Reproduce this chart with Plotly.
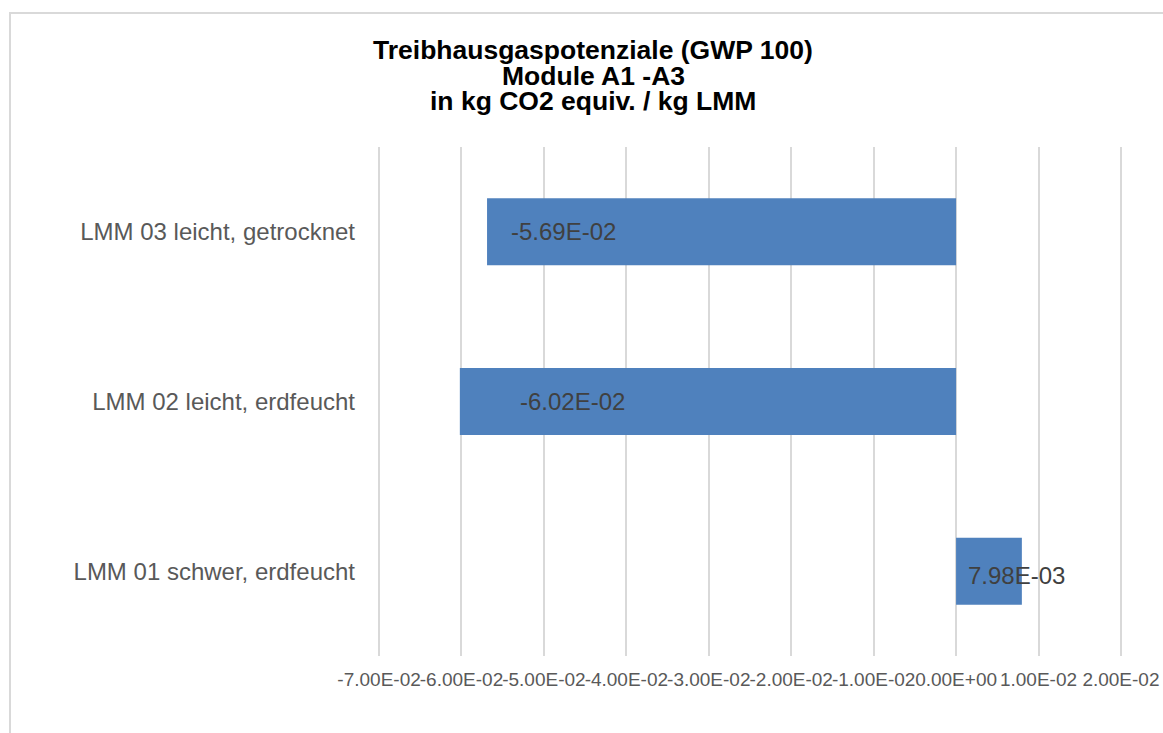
import plotly.graph_objects as go

# ---- data ----
categories = ["LMM 01 schwer, erdfeucht", "LMM 02 leicht, erdfeucht", "LMM 03 leicht, getrocknet"]
values = [0.00798, -0.0602, -0.0569]
tick_vals = [-0.07, -0.06, -0.05, -0.04, -0.03, -0.02, -0.01, 0.0, 0.01, 0.02]
tick_text = ["-7.00E-02", "-6.00E-02", "-5.00E-02", "-4.00E-02", "-3.00E-02",
             "-2.00E-02", "-1.00E-02", "0.00E+00", "1.00E-02", "2.00E-02"]
title_lines = ["Treibhausgaspotenziale (GWP 100)", "Module A1 -A3", "in kg CO2 equiv. / kg LMM"]

# ---- layout constants ----
W, H = 1163, 733
ML, MR, MT, MB = 377, 40, 147, 77
PW, PH = W - ML - MR, H - MT - MB
FONT = "Liberation Sans, Arial, sans-serif"
label_xshift = [10, 58, 22]
label_yshift = [-4, 0, 0]


def px_x(px):
    return (px - ML) / PW


def px_y(py):
    return (H - MB - py) / PH


fig = go.Figure()
fig.add_trace(go.Bar(
    y=categories, x=values, orientation="h",
    marker=dict(color="#4F81BD", line=dict(width=0)),
    width=0.395, hoverinfo="skip",
))

annotations = []
for cat, v, xs, ys in zip(categories, values, label_xshift, label_yshift):
    annotations.append(dict(
        x=min(v, 0), y=cat, xref="x", yref="y", text=f"{v:.2E}",
        showarrow=False, xanchor="left", yanchor="middle",
        xshift=xs, yshift=ys,
        font=dict(family=FONT, size=24, color="#404040"),
    ))

for i, line in enumerate(title_lines):
    annotations.append(dict(
        x=px_x(593), y=px_y(50 + 25.5 * i), xref="paper", yref="paper",
        text=f"<b>{line}</b>", showarrow=False, xanchor="center", yanchor="middle",
        font=dict(family=FONT, size=26.5, color="#000000"),
    ))

eps = 0.00025
fig.update_layout(
    width=W, height=H,
    margin=dict(l=ML, r=MR, t=MT, b=MB, pad=0, autoexpand=False),
    paper_bgcolor="white", plot_bgcolor="white",
    showlegend=False,
    annotations=annotations,
    xaxis=dict(
        range=[-0.07 - eps, 0.02 + eps], tickvals=tick_vals, ticktext=tick_text, tickangle=0,
        showgrid=True, gridcolor="#D9D9D9", gridwidth=1.5,
        zeroline=True, zerolinecolor="#D9D9D9", zerolinewidth=1.5,
        showline=False, ticks="", ticklabelstandoff=10, automargin=False,
        tickfont=dict(family=FONT, size=19, color="#595959"),
        fixedrange=True,
    ),
    yaxis=dict(
        type="category", range=[-0.5, 2.5], categoryorder="array", categoryarray=categories,
        showgrid=False, zeroline=False, showline=False, ticks="", automargin=False,
        ticklabelstandoff=21,
        tickfont=dict(family=FONT, size=24, color="#595959"),
        fixedrange=True,
    ),
    shapes=[dict(
        type="rect", xref="paper", yref="paper",
        x0=px_x(10), x1=px_x(W + 20), y0=px_y(H + 20), y1=px_y(13),
        line=dict(color="#D9D9D9", width=2), fillcolor="rgba(0,0,0,0)", layer="below",
    )],
)

fig.write_html("out.html", config={"displayModeBar": False})

# remove the default 8px page margin so the figure sits at the window origin
with open("out.html", "r", encoding="utf-8") as f:
    html = f.read()
html = html.replace("<body>", '<body style="margin:0;overflow:hidden">', 1)
with open("out.html", "w", encoding="utf-8") as f:
    f.write(html)
